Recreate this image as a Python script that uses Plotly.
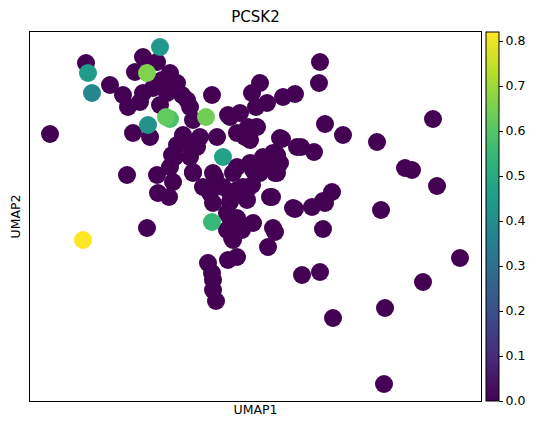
import plotly.graph_objects as go

# UMAP coordinates (arbitrary units) and PCSK2 expression
umap1 = [
    50, 86, 88, 92, 83, 160, 147,
    143, 157, 135, 147, 170, 162, 177,
    110, 123, 128, 140, 143, 153, 167, 182, 160, 173,
    187, 190, 193, 183, 177, 200, 197, 172, 170,
    166, 170, 148, 133, 150, 206,
    127, 157, 173, 158, 169, 193, 175,
    212, 252, 260, 267, 256, 283, 280, 230, 240, 228, 257, 248, 250, 245, 237, 217,
    187, 190, 193, 213, 237, 250, 263, 273, 280, 260, 277, 277, 223,
    215, 233, 253, 267, 210, 230, 247, 270, 213, 223, 237, 252, 243, 203, 213, 230, 247,
    212, 230, 227, 237, 227, 242, 233, 232, 253, 273, 275, 268,
    208, 212, 213, 213, 216, 228, 237,
    320, 319, 295, 325, 343, 377, 433, 282, 301, 314, 297, 405, 412, 437,
    332, 323, 312, 295, 325, 381, 323, 275, 272, 293,
    460, 423, 302, 320, 385, 333, 384,
]
umap2_px = [
    134, 63, 73, 93, 240, 47, 228,
    57, 62, 72, 73, 73, 80, 83,
    85, 95, 107, 102, 93, 88, 93, 95, 105, 88,
    100, 107, 120, 135, 145, 137, 147, 155, 167,
    117, 119, 125, 133, 137, 117,
    175, 175, 182, 193, 197, 173, 157,
    95, 93, 83, 103, 107, 97, 138, 117, 113, 115, 127, 127, 140, 137, 133, 137,
    143, 157, 172, 173, 167, 163, 157, 153, 163, 173, 173, 155, 157,
    177, 173, 170, 163, 193, 193, 190, 197, 187, 187, 190, 185, 187, 187, 203, 202, 200,
    222, 218, 213, 218, 230, 230, 240, 238, 223, 228, 232, 247,
    263, 273, 280, 290, 301, 260, 257,
    62, 83, 94, 124, 135, 142, 119, 139, 147, 152, 147, 168, 170, 186,
    192, 201, 207, 209, 203, 210, 229, 173, 197, 208,
    258, 282, 275, 272, 308, 318, 384,
]
umap2 = [431 - v for v in umap2_px]

pcsk2 = [
    0, 0, 0.45, 0.38, 0.82, 0.44, 0,
    0, 0, 0, 0.66, 0, 0, 0,
    0, 0, 0, 0, 0, 0, 0, 0, 0, 0,
    0, 0, 0, 0, 0, 0, 0, 0, 0,
    0.62, 0.58, 0.42, 0, 0, 0.64,
    0, 0, 0, 0, 0, 0, 0,
    0, 0, 0, 0, 0, 0, 0, 0, 0, 0, 0, 0, 0, 0, 0, 0,
    0, 0, 0, 0, 0, 0, 0, 0, 0, 0, 0, 0, 0.47,
    0, 0, 0, 0, 0, 0, 0, 0, 0, 0, 0, 0, 0, 0, 0, 0, 0,
    0.55, 0, 0, 0, 0, 0, 0, 0, 0, 0, 0, 0,
    0, 0, 0, 0, 0, 0, 0,
    0, 0, 0, 0, 0, 0, 0, 0, 0, 0, 0, 0, 0, 0,
    0, 0, 0, 0, 0, 0, 0, 0, 0, 0,
    0, 0, 0, 0, 0, 0, 0,
]

cbar_ticks = [0.0, 0.1, 0.2, 0.3, 0.4, 0.5, 0.6, 0.7, 0.8]

# draw highest expression on top
order = sorted(range(len(pcsk2)), key=lambda i: pcsk2[i])
xs = [umap1[i] for i in order]
ys = [umap2[i] for i in order]
cs = [pcsk2[i] for i in order]

# the page body has an 8px default margin; size the figure to fit inside
OFF = 8
W, H = 539 - OFF, 431 - OFF
L, T = 30 - OFF, 32 - OFF
R = W - (481 - OFF)
B = H - (401 - OFF)
plot_w = W - L - R

fig = go.Figure(go.Scatter(
    x=xs, y=ys, mode="markers",
    marker=dict(
        size=18, color=cs, colorscale="Viridis", cmin=0, cmax=0.82,
        line=dict(width=0),
        colorbar=dict(
            x=(486 - 30) / plot_w, xanchor="left", xref="paper",
            y=0.5, yanchor="middle", len=1, lenmode="fraction",
            xpad=0, ypad=0,
            thickness=13, outlinewidth=1, outlinecolor="black",
            tickvals=cbar_ticks, ticktext=[f"{t:.1f}" for t in cbar_ticks],
            ticks="outside", ticklen=4, tickcolor="black",
            tickfont=dict(family="DejaVu Sans", size=12.5, color="black"),
        ),
    ),
    showlegend=False,
))

fig.update_layout(
    width=W, height=H,
    margin=dict(l=L, r=R, t=T, b=B, autoexpand=False),
    plot_bgcolor="white", paper_bgcolor="white",
    font=dict(family="DejaVu Sans", color="black"),
    title=dict(text="PCSK2", x=0.5, xref="paper", xanchor="center",
               y=(H - (17 - OFF)) / H, yref="container", yanchor="middle",
               font=dict(size=15, family="DejaVu Sans", color="black")),
)
fig.update_xaxes(range=[30, 481], showgrid=False, zeroline=False, showticklabels=False,
                 ticks="", showline=True, mirror=True, linecolor="black", linewidth=1,
                 automargin=False,
                 title=dict(text="UMAP1", standoff=4, font=dict(size=12.5)))
fig.update_yaxes(range=[431 - 401, 431 - 32], showgrid=False, zeroline=False, showticklabels=False,
                 ticks="", showline=True, mirror=True, linecolor="black", linewidth=1,
                 automargin=False,
                 title=dict(text="UMAP2", standoff=5, font=dict(size=12.5)))

fig.write_html("out.html")
